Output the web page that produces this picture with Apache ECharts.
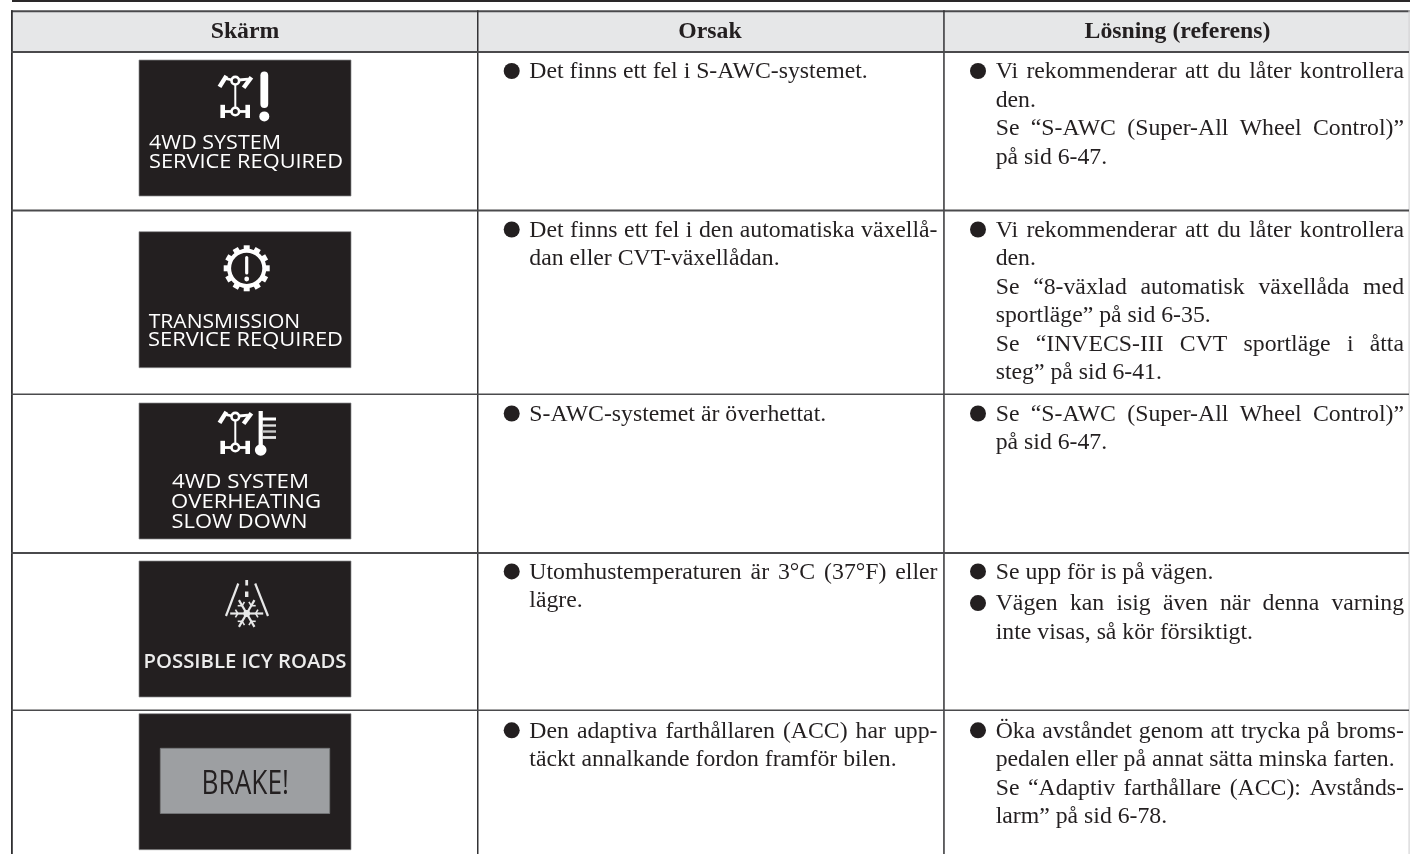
<!DOCTYPE html>
<html>
<head>
<meta charset="utf-8">
<style>html,body{margin:0;padding:0;background:#fff}#c{width:1410px;height:854px}</style>
<script src="https://cdn.jsdelivr.net/npm/echarts@6/dist/echarts.min.js"></script>
</head>
<body>
<div id="c"></div>
<script>
// ---- content -------------------------------------------------------------
const headers = ["Skärm", "Orsak", "Lösning (referens)"];
const screens = [
  ["4WD SYSTEM", "SERVICE REQUIRED"],
  ["TRANSMISSION", "SERVICE REQUIRED"],
  ["4WD SYSTEM", "OVERHEATING", "SLOW DOWN"],
  ["POSSIBLE ICY ROADS"],
  ["BRAKE!"]
];
// Each cell: list of paragraphs; a paragraph is a list of lines; "*" marks a bulleted paragraph.
const causes = [
  [["*Det finns ett fel i S-AWC-systemet."]],
  [["*Det finns ett fel i den automatiska växellå-", "dan eller CVT-växellådan."]],
  [["*S-AWC-systemet är överhettat."]],
  [["*Utomhustemperaturen är 3°C (37°F) eller", "lägre."]],
  [["*Den adaptiva farthållaren (ACC) har upp-", "täckt annalkande fordon framför bilen."]]
];
const solutions = [
  [["*Vi rekommenderar att du låter kontrollera", "den."], ["Se “S-AWC (Super-All Wheel Control)”", "på sid 6-47."]],
  [["*Vi rekommenderar att du låter kontrollera", "den."], ["Se “8-växlad automatisk växellåda med", "sportläge” på sid 6-35."], ["Se “INVECS-III CVT sportläge i åtta", "steg” på sid 6-41."]],
  [["*Se “S-AWC (Super-All Wheel Control)”", "på sid 6-47."]],
  [["*Se upp för is på vägen."], ["*Vägen kan isig även när denna varning", "inte visas, så kör försiktigt."]],
  [["*Öka avståndet genom att trycka på broms-", "pedalen eller på annat sätta minska farten."], ["Se “Adaptiv farthållare (ACC): Avstånds-", "larm” på sid 6-78."]]
];
const rowIds = [0, 1, 2, 3, 4];

// ---- layout --------------------------------------------------------------
const W = 1410, H = 854;
const INK = '#231f20', RULE = '#4a4a4c', HEAD = '#e6e7e8';
const SERIF = '"Liberation Serif","Times New Roman",serif';
const SANS = '"Open Sans","Noto Sans",sans-serif';
const BODY = 23.75, LEAD = 28.5;
const rowLines = [52, 210.5, 394.5, 553, 710.5];
const rowWeights = [2, 2, 1.5, 2, 1.6];
const colLines = [11.8, 477.8, 944];
const headCenters = [245, 710, 1177.5];
const firstBase = [80, 238.5, 422.5, 580.4, 739.3];
const boxTops = [60, 231.7, 403, 561, 713.7];
const BOX = { x: 139, w: 212, h: 136 };
const cols = [{ x: 478, bullet: 511.7, text: 529.3, right: 937.5 }, { x: 944, bullet: 978, text: 995.7, right: 1404 }];
const SANS_NUDGE = 3;

const mctx = document.createElement('canvas').getContext('2d');
function fontStr(size, family, weight) { return (weight || 'normal') + ' ' + size + 'px ' + family; }
function width(t, size, family, weight) { mctx.font = fontStr(size, family, weight); return mctx.measureText(t).width; }
function baseOff(size, family, weight) {
  mctx.font = fontStr(size, family, weight); mctx.textBaseline = 'alphabetic';
  const m = mctx.measureText('Hg');
  return (m.fontBoundingBoxAscent - m.fontBoundingBoxDescent) / 2;
}

function renderRow(params, api) {
  const id = api.value(0);
  const P = (x, y) => api.coord([x, y]);
  const kids = [];

  const rect = (x, y, w, h, fill, extra) => {
    const a = P(x, y), b = P(x + w, y + h);
    kids.push({ type: 'rect', shape: { x: a[0], y: a[1], width: b[0] - a[0], height: b[1] - a[1] }, style: Object.assign({ fill: fill }, extra || {}) });
  };
  const line = (x1, y1, x2, y2, w, color, cap) => {
    const a = P(x1, y1), b = P(x2, y2);
    kids.push({ type: 'line', shape: { x1: a[0], y1: a[1], x2: b[0], y2: b[1] }, style: { stroke: color || '#fff', lineWidth: w, lineCap: cap || 'butt', fill: null } });
  };
  const circle = (x, y, r, fill, stroke, lw) => {
    const a = P(x, y);
    kids.push({ type: 'circle', shape: { cx: a[0], cy: a[1], r: r }, style: { fill: fill || 'none', stroke: stroke || null, lineWidth: lw || 0 } });
  };
  const text = (t, x, base, size, family, color, opts) => {
    opts = opts || {};
    const nudge = family === SANS ? SANS_NUDGE * size / 20.5 : 0;
    const a = P(x, base - baseOff(size, family, opts.weight) + nudge);
    const el = { type: 'text', x: a[0], y: a[1], style: { text: t, x: 0, y: 0, fill: color, fontSize: size, fontFamily: family, fontWeight: opts.weight || 'normal', textAlign: opts.align || 'left', textVerticalAlign: 'middle', verticalAlign: 'middle' } };
    if (opts.fit) { el.scaleX = opts.fit / width(t, size, family, opts.weight); }
    kids.push(el);
  };

  // cell text with justified lines
  const drawCell = (cell, col, base) => {
    let y = base;
    cell.forEach((para, pi) => {
      const bulleted = para[0][0] === '*';
      if (pi > 0 && bulleted) y += 3.2;
      para.forEach((raw, li) => {
        const s = li === 0 && bulleted ? raw.slice(1) : raw;
        if (li === 0 && bulleted) circle(col.bullet, y - 9, 8, INK);
        const justify = li < para.length - 1 && s.indexOf('pedalen') !== 0;
        if (!justify) {
          text(s, col.text, y, BODY, SERIF, INK);
        } else {
          const words = s.split(' ');
          const total = words.reduce((acc, w) => acc + width(w, BODY, SERIF), 0);
          const gap = (col.right - col.text - total) / (words.length - 1);
          let x = col.text;
          words.forEach(w => { text(w, x, y, BODY, SERIF, INK); x += width(w, BODY, SERIF) + gap; });
        }
        y += LEAD;
      });
    });
  };

  const driveIcon = (dy) => {
    const c = 235.3;
    line(c, 84 + dy, c, 108 + dy, 2);
    circle(c, 80.7 + dy, 3.8, INK, '#fff', 2.6);
    circle(c, 111.5 + dy, 3.8, INK, '#fff', 2.6);
    line(219.5, 86.8 + dy, 226.4, 75.8 + dy, 4.4);
    line(243.6, 87.8 + dy, 251.4, 77.2 + dy, 4.4);
    line(224, 78.2 + dy, 232, 80 + dy, 2.8);
    line(239, 80 + dy, 248, 79.2 + dy, 2.8);
    line(222.7, 104.8 + dy, 222.7, 118 + dy, 4.6);
    line(247.7, 104.8 + dy, 247.7, 118 + dy, 4.6);
    line(223, 111.5 + dy, 231.5, 111.5 + dy, 2.8);
    line(239, 111.5 + dy, 247, 111.5 + dy, 2.8);
  };

  const box = (i) => {
    rect(BOX.x, boxTops[i], BOX.w, BOX.h, '#231f20', { stroke: '#8a8a8c', lineWidth: 0.7 });
  };

  if (id === 0) {
    // header band, page rule and frame
    rect(12, 0, W - 12, 2, '#2a2829');
    rect(12, 11, W - 12, 40.5, HEAD);
    rect(11, 10.2, W - 11, 2, RULE);
    rect(colLines[0] - 0.8, 10.2, 1.8, H - 10, '#2f2f31');
    rect(colLines[1] - 0.8, 10.2, 1.5, H - 10, '#333335');
    rect(colLines[2] - 0.8, 10.2, 1.5, H - 10, '#333335');
    rect(W - 1.5, 10.2, 1.2, H - 10, '#d4d4d6');
    rowLines.forEach((y, i) => rect(11, y - 1, W - 12, rowWeights[i], RULE));
    headers.forEach((h, i) => text(h, headCenters[i], 40.2, BODY, SERIF, INK, { weight: 'bold', align: 'center' }));
  }

  box(id);
  const S = screens[id];
  const SZ = 20.5, WT = 500;
  if (id === 0) {
    driveIcon(0);
    line(264.3, 75.5, 264.3, 104, 7.8, '#fff', 'round');
    circle(264.3, 116.4, 5, '#fff');
    text(S[0], 149, 148.3, SZ, SANS, '#fff', { fit: 132, weight: WT });
    text(S[1], 149, 167.6, SZ, SANS, '#fff', { fit: 194, weight: WT });
  } else if (id === 1) {
    const cx = 246.7, cy = 268.3;
    for (let a = 0; a < 12; a++) {
      const th = a * Math.PI / 6;
      line(cx + 17 * Math.cos(th), cy + 17 * Math.sin(th), cx + 23 * Math.cos(th), cy + 23 * Math.sin(th), 6, '#fff');
    }
    circle(cx, cy, 17.6, INK, '#fff', 4);
    line(cx, 257.5, cx, 273, 3.2, '#fff', 'round');
    circle(cx, 279, 2.4, '#fff');
    text(S[0], 148.7, 326.7, SZ, SANS, '#fff', { fit: 151.5, weight: WT });
    text(S[1], 148, 345.6, SZ, SANS, '#fff', { fit: 195, weight: WT });
  } else if (id === 2) {
    driveIcon(336);
    line(260.7, 411, 260.7, 446, 4.2);
    circle(260.7, 450, 5.8, '#fff');
    line(262, 419, 276, 419, 3);
    line(262, 425.5, 276, 425.5, 2.4, '#e0e0e0');
    line(262, 431.5, 276, 431.5, 2.4, '#c8c8c8');
    line(262, 437.5, 276, 437.5, 2.8, '#e8e8e8');
    text(S[0], 172, 487.4, SZ, SANS, '#fff', { fit: 137, weight: WT });
    text(S[1], 171, 507.3, SZ, SANS, '#fff', { fit: 150, weight: WT });
    text(S[2], 171.5, 527.2, SZ, SANS, '#fff', { fit: 136, weight: WT });
  } else if (id === 3) {
    const c = '#e8e8e8', cx = 246.7, cy = 613.5;
    line(238.3, 583.5, 226, 616, 2.2, c);
    line(255.2, 583.5, 268, 616, 2.2, c);
    line(cx, 580, cx, 585.5, 2.8, c);
    line(cx, 591.5, cx, 597, 3.4, c);
    for (let a = 0; a < 6; a++) {
      const th = a * Math.PI / 3, R = a % 3 === 0 ? 16.5 : 15.5;
      const dx = Math.cos(th), dy = Math.sin(th);
      line(cx, cy, cx + dx * R, cy + dy * R, 2.2, c);
      const mx = cx + dx * 9, my = cy + dy * 9;
      [1, -1].forEach(s => {
        const t2 = th + s * Math.PI / 3;
        line(mx, my, mx + Math.cos(t2) * 4.5, my + Math.sin(t2) * 4.5, 1.6, c);
      });
    }
    circle(cx, cy, 3.4, c);
    text(S[0], 143.5, 667.6, SZ, SANS, '#ececec', { fit: 203, weight: 600 });
  } else {
    rect(160.3, 748.3, 169.4, 65.2, '#9d9fa2', { stroke: '#77787b', lineWidth: 0.8 });
    text(S[0], 201.5, 793, 32, SANS, '#231f20', { fit: 87.5 });
  }

  drawCell(causes[id], cols[0], firstBase[id]);
  drawCell(solutions[id], cols[1], firstBase[id]);

  return { type: 'group', children: kids };
}

const chart = echarts.init(document.getElementById('c'), null, { renderer: 'canvas', width: W, height: H });
chart.setOption({
  animation: false,
  backgroundColor: '#ffffff',
  tooltip: { show: false },
  grid: { left: 0, right: 0, top: 0, bottom: 0 },
  xAxis: { type: 'value', min: 0, max: W, show: false },
  yAxis: { type: 'value', min: 0, max: H, inverse: true, show: false },
  series: [{
    type: 'custom',
    coordinateSystem: 'cartesian2d',
    silent: true,
    clip: false,
    data: rowIds.map(i => [i]),
    encode: { x: 0 },
    renderItem: renderRow
  }]
});
</script>
</body>
</html>
